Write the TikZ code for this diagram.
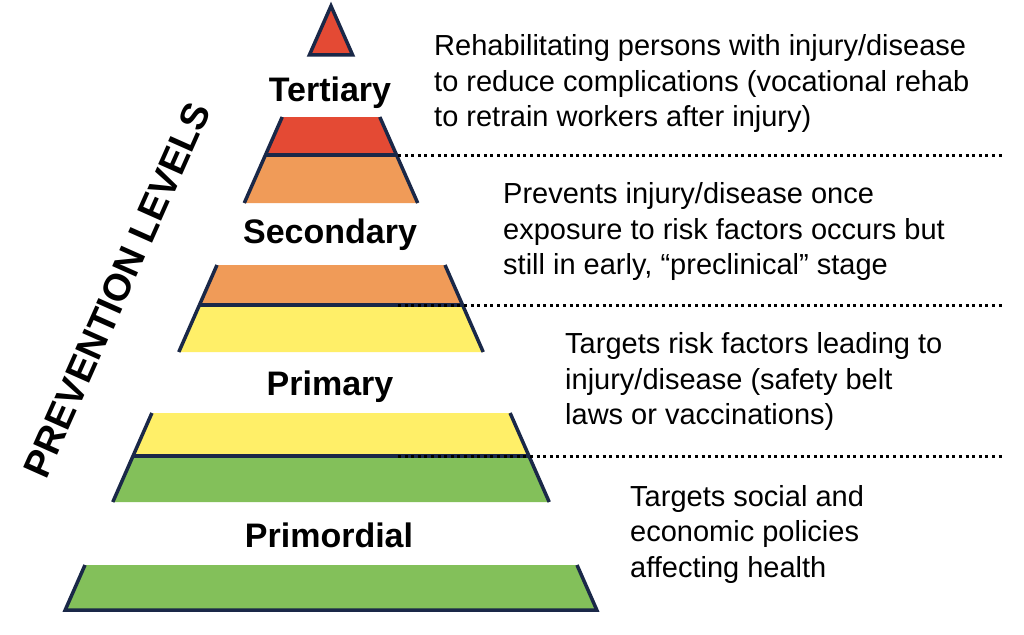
\documentclass[tikz,border=0pt]{standalone}
\usepackage{fontspec}
\setmainfont{Liberation Sans}
\begin{document}
\begin{tikzpicture}[x=1pt,y=-1pt,
  navyline/.style={draw=navy,line width=3.5pt,line join=miter},
  sepline/.style={draw=navy,line width=3.5pt},
  dotline/.style={draw=black,line width=3pt,dash pattern=on 3pt off 3.6pt},
  level/.style={font=\fontsize{34}{40}\selectfont\bfseries,anchor=base,inner sep=0pt},
  desc/.style={font=\fontsize{29}{35.5}\selectfont,align=left,anchor=base west,inner sep=0pt},
]
\definecolor{navy}{RGB}{26,40,72}
\definecolor{pred}{RGB}{228,74,52}
\definecolor{porange}{RGB}{240,155,88}
\definecolor{pyellow}{RGB}{255,239,104}
\definecolor{pgreen}{RGB}{131,192,90}
\useasboundingbox (0,0) rectangle (1024,634);
\fill[white] (0,0) rectangle (1024,634);

% fills
\fill[pred] (331,6) -- (352.6,55) -- (309.4,55) -- cycle;
\fill[pred] (282.2,117) -- (379.8,117) -- (396.6,155) -- (265.4,155) -- cycle;
\fill[porange] (265.4,155) -- (396.6,155) -- (417.7,203) -- (244.3,203) -- cycle;
\fill[porange] (217.0,265) -- (445.0,265) -- (462.6,305) -- (199.4,305) -- cycle;
\fill[pyellow] (199.4,305) -- (462.6,305) -- (483.2,352) -- (178.8,352) -- cycle;
\fill[pyellow] (151.9,413) -- (510.1,413) -- (529,456) -- (133,456) -- cycle;
\fill[pgreen] (133,456) -- (529,456) -- (549.2,502) -- (112.8,502) -- cycle;
\fill[pgreen] (85,565) -- (577,565) -- (596.8,610) -- (65.2,610) -- cycle;

% outlines
\draw[navyline] (331,6) -- (352.6,55) -- (309.4,55) -- cycle;
\draw[navyline] (282.2,117) -- (244.3,203);
\draw[navyline] (379.8,117) -- (417.7,203);
\draw[navyline] (217.0,265) -- (178.8,352);
\draw[navyline] (445.0,265) -- (483.2,352);
\draw[navyline] (151.9,413) -- (112.8,502);
\draw[navyline] (510.1,413) -- (549.2,502);
\draw[navyline] (85,565) -- (65.2,610) -- (596.8,610) -- (577,565);
\draw[sepline] (265.4,155) -- (396.6,155);
\draw[sepline] (199.4,305) -- (462.6,305);
\draw[sepline] (133,456) -- (529,456);

% dotted leaders
\coordinate (d1a) at (398,155); \coordinate (d1b) at (1004,155);
\coordinate (d2a) at (398,305); \coordinate (d2b) at (1004,305);
\coordinate (d3a) at (398,456); \coordinate (d3b) at (1004,456);
\draw[dotline] (d1a) -- (d1b);
\draw[dotline] (d2a) -- (d2b);
\draw[dotline] (d3a) -- (d3b);

% level labels
\node[level] (tert) at (330,101.5) {Tertiary};
\node[level] (sec) at (330,243.5) {Secondary};
\node[level] (prim) at (330,395) {Primary};
\node[level] (primo) at (329,547.5) {Primordial};

% descriptions (anchored at the baseline of the last line)
\node[desc] (t1) at (434,126.5) {Rehabilitating persons with injury/disease\\to reduce complications (vocational rehab\\to retrain workers after injury)};
\node[desc] (t2) at (503,274.5) {Prevents injury/disease once\\exposure to risk factors occurs but\\still in early, “preclinical” stage};
\node[desc] (t3) at (565,424.5) {Targets risk factors leading to\\injury/disease (safety belt\\laws or vaccinations)};
\node[desc] (t4) at (630,577) {Targets social and\\economic policies\\affecting health};

% side title
\node[font=\fontsize{38}{42}\selectfont\bfseries,rotate=66,inner sep=0pt] (title) at (117,290) {PREVENTION LEVELS};
\end{tikzpicture}
\end{document}
